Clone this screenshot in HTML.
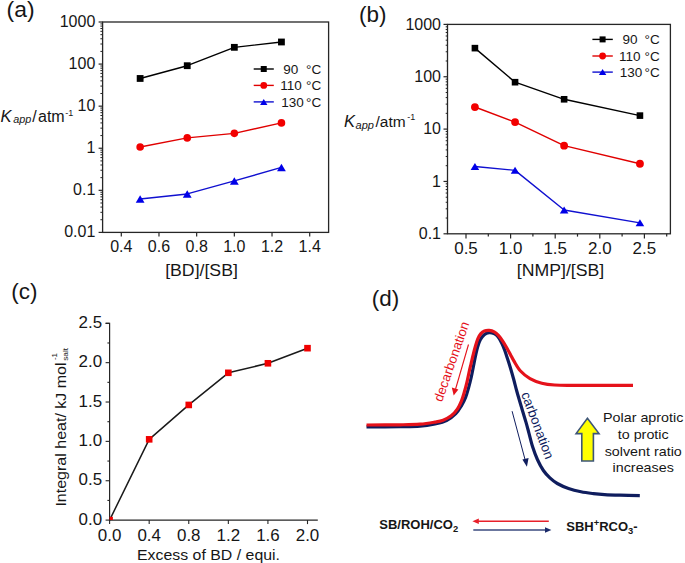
<!DOCTYPE html>
<html><head><meta charset="utf-8"><style>
html,body{margin:0;padding:0;background:#fff;}
svg{display:block;}
text{font-family:"Liberation Sans", sans-serif;fill:#161616;}
</style></head><body>
<svg width="685" height="563" viewBox="0 0 685 563">
<rect width="685" height="563" fill="#fff"/>
<rect x="102.6" y="22.0" width="226.00000000000003" height="210.4" fill="none" stroke="#262626" stroke-width="1.3"/>
<line x1="98.60" y1="232.40" x2="102.60" y2="232.40" stroke="#262626" stroke-width="1.2"/>
<line x1="100.40" y1="219.73" x2="102.60" y2="219.73" stroke="#262626" stroke-width="1"/>
<line x1="100.40" y1="212.32" x2="102.60" y2="212.32" stroke="#262626" stroke-width="1"/>
<line x1="100.40" y1="207.07" x2="102.60" y2="207.07" stroke="#262626" stroke-width="1"/>
<line x1="100.40" y1="202.99" x2="102.60" y2="202.99" stroke="#262626" stroke-width="1"/>
<line x1="100.40" y1="199.66" x2="102.60" y2="199.66" stroke="#262626" stroke-width="1"/>
<line x1="100.40" y1="196.84" x2="102.60" y2="196.84" stroke="#262626" stroke-width="1"/>
<line x1="100.40" y1="194.40" x2="102.60" y2="194.40" stroke="#262626" stroke-width="1"/>
<line x1="100.40" y1="192.25" x2="102.60" y2="192.25" stroke="#262626" stroke-width="1"/>
<line x1="98.60" y1="190.32" x2="102.60" y2="190.32" stroke="#262626" stroke-width="1.2"/>
<line x1="100.40" y1="177.65" x2="102.60" y2="177.65" stroke="#262626" stroke-width="1"/>
<line x1="100.40" y1="170.24" x2="102.60" y2="170.24" stroke="#262626" stroke-width="1"/>
<line x1="100.40" y1="164.99" x2="102.60" y2="164.99" stroke="#262626" stroke-width="1"/>
<line x1="100.40" y1="160.91" x2="102.60" y2="160.91" stroke="#262626" stroke-width="1"/>
<line x1="100.40" y1="157.58" x2="102.60" y2="157.58" stroke="#262626" stroke-width="1"/>
<line x1="100.40" y1="154.76" x2="102.60" y2="154.76" stroke="#262626" stroke-width="1"/>
<line x1="100.40" y1="152.32" x2="102.60" y2="152.32" stroke="#262626" stroke-width="1"/>
<line x1="100.40" y1="150.17" x2="102.60" y2="150.17" stroke="#262626" stroke-width="1"/>
<line x1="98.60" y1="148.24" x2="102.60" y2="148.24" stroke="#262626" stroke-width="1.2"/>
<line x1="100.40" y1="135.57" x2="102.60" y2="135.57" stroke="#262626" stroke-width="1"/>
<line x1="100.40" y1="128.16" x2="102.60" y2="128.16" stroke="#262626" stroke-width="1"/>
<line x1="100.40" y1="122.91" x2="102.60" y2="122.91" stroke="#262626" stroke-width="1"/>
<line x1="100.40" y1="118.83" x2="102.60" y2="118.83" stroke="#262626" stroke-width="1"/>
<line x1="100.40" y1="115.50" x2="102.60" y2="115.50" stroke="#262626" stroke-width="1"/>
<line x1="100.40" y1="112.68" x2="102.60" y2="112.68" stroke="#262626" stroke-width="1"/>
<line x1="100.40" y1="110.24" x2="102.60" y2="110.24" stroke="#262626" stroke-width="1"/>
<line x1="100.40" y1="108.09" x2="102.60" y2="108.09" stroke="#262626" stroke-width="1"/>
<line x1="98.60" y1="106.16" x2="102.60" y2="106.16" stroke="#262626" stroke-width="1.2"/>
<line x1="100.40" y1="93.49" x2="102.60" y2="93.49" stroke="#262626" stroke-width="1"/>
<line x1="100.40" y1="86.08" x2="102.60" y2="86.08" stroke="#262626" stroke-width="1"/>
<line x1="100.40" y1="80.83" x2="102.60" y2="80.83" stroke="#262626" stroke-width="1"/>
<line x1="100.40" y1="76.75" x2="102.60" y2="76.75" stroke="#262626" stroke-width="1"/>
<line x1="100.40" y1="73.42" x2="102.60" y2="73.42" stroke="#262626" stroke-width="1"/>
<line x1="100.40" y1="70.60" x2="102.60" y2="70.60" stroke="#262626" stroke-width="1"/>
<line x1="100.40" y1="68.16" x2="102.60" y2="68.16" stroke="#262626" stroke-width="1"/>
<line x1="100.40" y1="66.01" x2="102.60" y2="66.01" stroke="#262626" stroke-width="1"/>
<line x1="98.60" y1="64.08" x2="102.60" y2="64.08" stroke="#262626" stroke-width="1.2"/>
<line x1="100.40" y1="51.41" x2="102.60" y2="51.41" stroke="#262626" stroke-width="1"/>
<line x1="100.40" y1="44.00" x2="102.60" y2="44.00" stroke="#262626" stroke-width="1"/>
<line x1="100.40" y1="38.75" x2="102.60" y2="38.75" stroke="#262626" stroke-width="1"/>
<line x1="100.40" y1="34.67" x2="102.60" y2="34.67" stroke="#262626" stroke-width="1"/>
<line x1="100.40" y1="31.34" x2="102.60" y2="31.34" stroke="#262626" stroke-width="1"/>
<line x1="100.40" y1="28.52" x2="102.60" y2="28.52" stroke="#262626" stroke-width="1"/>
<line x1="100.40" y1="26.08" x2="102.60" y2="26.08" stroke="#262626" stroke-width="1"/>
<line x1="100.40" y1="23.93" x2="102.60" y2="23.93" stroke="#262626" stroke-width="1"/>
<line x1="98.60" y1="22.00" x2="102.60" y2="22.00" stroke="#262626" stroke-width="1.2"/>
<text transform="translate(95.30,237.10)" font-size="16" text-anchor="end">0.01</text>
<text transform="translate(95.30,195.02)" font-size="16" text-anchor="end">0.1</text>
<text transform="translate(95.30,152.94)" font-size="16" text-anchor="end">1</text>
<text transform="translate(95.30,110.86)" font-size="16" text-anchor="end">10</text>
<text transform="translate(95.30,68.78)" font-size="16" text-anchor="end">100</text>
<text transform="translate(95.30,26.70)" font-size="16" text-anchor="end">1000</text>
<line x1="121.30" y1="232.40" x2="121.30" y2="236.40" stroke="#262626" stroke-width="1.2"/>
<text transform="translate(121.30,251.60)" font-size="16" text-anchor="middle">0.4</text>
<line x1="158.98" y1="232.40" x2="158.98" y2="236.40" stroke="#262626" stroke-width="1.2"/>
<text transform="translate(158.98,251.60)" font-size="16" text-anchor="middle">0.6</text>
<line x1="196.66" y1="232.40" x2="196.66" y2="236.40" stroke="#262626" stroke-width="1.2"/>
<text transform="translate(196.66,251.60)" font-size="16" text-anchor="middle">0.8</text>
<line x1="234.34" y1="232.40" x2="234.34" y2="236.40" stroke="#262626" stroke-width="1.2"/>
<text transform="translate(234.34,251.60)" font-size="16" text-anchor="middle">1.0</text>
<line x1="272.02" y1="232.40" x2="272.02" y2="236.40" stroke="#262626" stroke-width="1.2"/>
<text transform="translate(272.02,251.60)" font-size="16" text-anchor="middle">1.2</text>
<line x1="309.70" y1="232.40" x2="309.70" y2="236.40" stroke="#262626" stroke-width="1.2"/>
<text transform="translate(309.70,251.60)" font-size="16" text-anchor="middle">1.4</text>
<polyline points="140.14,78.47 187.24,65.70 234.34,47.33 281.44,41.99" fill="none" stroke="#000" stroke-width="1.4" stroke-linejoin="round"/>
<rect x="136.74" y="75.07" width="6.8" height="6.8" fill="#000"/>
<rect x="183.84" y="62.30" width="6.8" height="6.8" fill="#000"/>
<rect x="230.94" y="43.93" width="6.8" height="6.8" fill="#000"/>
<rect x="278.04" y="38.59" width="6.8" height="6.8" fill="#000"/>
<polyline points="140.14,147.00 187.24,137.91 234.34,133.34 281.44,122.91" fill="none" stroke="#e00000" stroke-width="1.4" stroke-linejoin="round"/>
<circle cx="140.14" cy="147.00" r="3.8" fill="#f20000"/>
<circle cx="187.24" cy="137.91" r="3.8" fill="#f20000"/>
<circle cx="234.34" cy="133.34" r="3.8" fill="#f20000"/>
<circle cx="281.44" cy="122.91" r="3.8" fill="#f20000"/>
<polyline points="140.14,199.06 187.24,193.95 234.34,180.95 281.44,167.43" fill="none" stroke="#1010d0" stroke-width="1.4" stroke-linejoin="round"/>
<polygon points="135.74,202.86 144.54,202.86 140.14,195.26" fill="#0000e8"/>
<polygon points="182.84,197.75 191.64,197.75 187.24,190.15" fill="#0000e8"/>
<polygon points="229.94,184.75 238.74,184.75 234.34,177.15" fill="#0000e8"/>
<polygon points="277.04,171.23 285.84,171.23 281.44,163.63" fill="#0000e8"/>
<line x1="253.70" y1="69.00" x2="273.80" y2="69.00" stroke="#000" stroke-width="1.4"/>
<rect x="260.75" y="66.00" width="6.0" height="6.0" fill="#000"/>
<text transform="translate(283.30,73.70) scale(1.04,1)" font-size="13">90</text>
<text transform="translate(306.00,73.70) scale(1.04,1)" font-size="13">°C</text>
<line x1="253.70" y1="85.40" x2="273.80" y2="85.40" stroke="#e00000" stroke-width="1.4"/>
<circle cx="263.75" cy="85.40" r="3.4" fill="#f20000"/>
<text transform="translate(280.20,90.10) scale(1.04,1)" font-size="13">110</text>
<text transform="translate(306.00,90.10) scale(1.04,1)" font-size="13">°C</text>
<line x1="253.70" y1="101.90" x2="273.80" y2="101.90" stroke="#1010d0" stroke-width="1.4"/>
<polygon points="260.05,104.90 267.45,104.90 263.75,98.90" fill="#0000e8"/>
<text transform="translate(281.30,106.60) scale(1.04,1)" font-size="13">130</text>
<text transform="translate(306.00,106.60) scale(1.04,1)" font-size="13">°C</text>
<text transform="translate(0.40,121.50)" font-size="16.5" font-style="italic">K</text>
<text transform="translate(13.30,123.40)" font-size="10.8" font-style="italic">app</text>
<text transform="translate(32.20,121.70)" font-size="16">/</text>
<text transform="translate(38.00,121.60)" font-size="16">atm</text>
<text transform="translate(65.30,115.70)" font-size="9">-1</text>
<text transform="translate(201.50,276.20) scale(1.04,1)" font-size="17" text-anchor="middle">[BD]/[SB]</text>
<text transform="translate(6.60,17.00) scale(1.04,1)" font-size="22">(a)</text>
<rect x="447.5" y="24.4" width="222.89999999999998" height="209.4" fill="none" stroke="#262626" stroke-width="1.3"/>
<line x1="443.50" y1="233.80" x2="447.50" y2="233.80" stroke="#262626" stroke-width="1.2"/>
<line x1="445.70" y1="218.04" x2="447.50" y2="218.04" stroke="#262626" stroke-width="1"/>
<line x1="445.70" y1="208.82" x2="447.50" y2="208.82" stroke="#262626" stroke-width="1"/>
<line x1="445.70" y1="202.28" x2="447.50" y2="202.28" stroke="#262626" stroke-width="1"/>
<line x1="445.70" y1="197.21" x2="447.50" y2="197.21" stroke="#262626" stroke-width="1"/>
<line x1="445.70" y1="193.06" x2="447.50" y2="193.06" stroke="#262626" stroke-width="1"/>
<line x1="445.70" y1="189.56" x2="447.50" y2="189.56" stroke="#262626" stroke-width="1"/>
<line x1="445.70" y1="186.52" x2="447.50" y2="186.52" stroke="#262626" stroke-width="1"/>
<line x1="445.70" y1="183.85" x2="447.50" y2="183.85" stroke="#262626" stroke-width="1"/>
<line x1="443.50" y1="181.45" x2="447.50" y2="181.45" stroke="#262626" stroke-width="1.2"/>
<line x1="445.70" y1="165.69" x2="447.50" y2="165.69" stroke="#262626" stroke-width="1"/>
<line x1="445.70" y1="156.47" x2="447.50" y2="156.47" stroke="#262626" stroke-width="1"/>
<line x1="445.70" y1="149.93" x2="447.50" y2="149.93" stroke="#262626" stroke-width="1"/>
<line x1="445.70" y1="144.86" x2="447.50" y2="144.86" stroke="#262626" stroke-width="1"/>
<line x1="445.70" y1="140.71" x2="447.50" y2="140.71" stroke="#262626" stroke-width="1"/>
<line x1="445.70" y1="137.21" x2="447.50" y2="137.21" stroke="#262626" stroke-width="1"/>
<line x1="445.70" y1="134.17" x2="447.50" y2="134.17" stroke="#262626" stroke-width="1"/>
<line x1="445.70" y1="131.50" x2="447.50" y2="131.50" stroke="#262626" stroke-width="1"/>
<line x1="443.50" y1="129.10" x2="447.50" y2="129.10" stroke="#262626" stroke-width="1.2"/>
<line x1="445.70" y1="113.34" x2="447.50" y2="113.34" stroke="#262626" stroke-width="1"/>
<line x1="445.70" y1="104.12" x2="447.50" y2="104.12" stroke="#262626" stroke-width="1"/>
<line x1="445.70" y1="97.58" x2="447.50" y2="97.58" stroke="#262626" stroke-width="1"/>
<line x1="445.70" y1="92.51" x2="447.50" y2="92.51" stroke="#262626" stroke-width="1"/>
<line x1="445.70" y1="88.36" x2="447.50" y2="88.36" stroke="#262626" stroke-width="1"/>
<line x1="445.70" y1="84.86" x2="447.50" y2="84.86" stroke="#262626" stroke-width="1"/>
<line x1="445.70" y1="81.82" x2="447.50" y2="81.82" stroke="#262626" stroke-width="1"/>
<line x1="445.70" y1="79.15" x2="447.50" y2="79.15" stroke="#262626" stroke-width="1"/>
<line x1="443.50" y1="76.75" x2="447.50" y2="76.75" stroke="#262626" stroke-width="1.2"/>
<line x1="445.70" y1="60.99" x2="447.50" y2="60.99" stroke="#262626" stroke-width="1"/>
<line x1="445.70" y1="51.77" x2="447.50" y2="51.77" stroke="#262626" stroke-width="1"/>
<line x1="445.70" y1="45.23" x2="447.50" y2="45.23" stroke="#262626" stroke-width="1"/>
<line x1="445.70" y1="40.16" x2="447.50" y2="40.16" stroke="#262626" stroke-width="1"/>
<line x1="445.70" y1="36.01" x2="447.50" y2="36.01" stroke="#262626" stroke-width="1"/>
<line x1="445.70" y1="32.51" x2="447.50" y2="32.51" stroke="#262626" stroke-width="1"/>
<line x1="445.70" y1="29.47" x2="447.50" y2="29.47" stroke="#262626" stroke-width="1"/>
<line x1="445.70" y1="26.80" x2="447.50" y2="26.80" stroke="#262626" stroke-width="1"/>
<line x1="443.50" y1="24.40" x2="447.50" y2="24.40" stroke="#262626" stroke-width="1.2"/>
<text transform="translate(441.00,238.90)" font-size="16" text-anchor="end">0.1</text>
<text transform="translate(441.00,186.55)" font-size="16" text-anchor="end">1</text>
<text transform="translate(441.00,134.20)" font-size="16" text-anchor="end">10</text>
<text transform="translate(441.00,81.85)" font-size="16" text-anchor="end">100</text>
<text transform="translate(441.00,29.50)" font-size="16" text-anchor="end">1000</text>
<line x1="466.00" y1="233.80" x2="466.00" y2="238.60" stroke="#262626" stroke-width="1.2"/>
<text transform="translate(466.00,254.30) scale(1.06,1)" font-size="16" text-anchor="middle">0.5</text>
<line x1="488.30" y1="233.80" x2="488.30" y2="236.60" stroke="#262626" stroke-width="1.2"/>
<line x1="510.60" y1="233.80" x2="510.60" y2="238.60" stroke="#262626" stroke-width="1.2"/>
<text transform="translate(510.60,254.30) scale(1.06,1)" font-size="16" text-anchor="middle">1.0</text>
<line x1="532.90" y1="233.80" x2="532.90" y2="236.60" stroke="#262626" stroke-width="1.2"/>
<line x1="555.20" y1="233.80" x2="555.20" y2="238.60" stroke="#262626" stroke-width="1.2"/>
<text transform="translate(555.20,254.30) scale(1.06,1)" font-size="16" text-anchor="middle">1.5</text>
<line x1="577.50" y1="233.80" x2="577.50" y2="236.60" stroke="#262626" stroke-width="1.2"/>
<line x1="599.80" y1="233.80" x2="599.80" y2="238.60" stroke="#262626" stroke-width="1.2"/>
<text transform="translate(599.80,254.30) scale(1.06,1)" font-size="16" text-anchor="middle">2.0</text>
<line x1="622.10" y1="233.80" x2="622.10" y2="236.60" stroke="#262626" stroke-width="1.2"/>
<line x1="644.40" y1="233.80" x2="644.40" y2="238.60" stroke="#262626" stroke-width="1.2"/>
<text transform="translate(644.40,254.30) scale(1.06,1)" font-size="16" text-anchor="middle">2.5</text>
<line x1="666.70" y1="233.80" x2="666.70" y2="236.60" stroke="#262626" stroke-width="1.2"/>
<polyline points="474.92,48.14 515.06,82.20 564.12,99.29 639.94,115.61" fill="none" stroke="#000" stroke-width="1.4" stroke-linejoin="round"/>
<rect x="471.62" y="44.84" width="6.6" height="6.6" fill="#000"/>
<rect x="511.76" y="78.90" width="6.6" height="6.6" fill="#000"/>
<rect x="560.82" y="95.99" width="6.6" height="6.6" fill="#000"/>
<rect x="636.64" y="112.31" width="6.6" height="6.6" fill="#000"/>
<polyline points="474.92,107.03 515.06,122.11 564.12,145.69 639.94,163.73" fill="none" stroke="#e00000" stroke-width="1.4" stroke-linejoin="round"/>
<circle cx="474.92" cy="107.03" r="3.9" fill="#f20000"/>
<circle cx="515.06" cy="122.11" r="3.9" fill="#f20000"/>
<circle cx="564.12" cy="145.69" r="3.9" fill="#f20000"/>
<circle cx="639.94" cy="163.73" r="3.9" fill="#f20000"/>
<polyline points="474.92,166.50 515.06,170.34 564.12,209.99 639.94,222.83" fill="none" stroke="#1010d0" stroke-width="1.4" stroke-linejoin="round"/>
<polygon points="470.62,170.00 479.22,170.00 474.92,163.00" fill="#0000e8"/>
<polygon points="510.76,173.84 519.36,173.84 515.06,166.84" fill="#0000e8"/>
<polygon points="559.82,213.49 568.42,213.49 564.12,206.49" fill="#0000e8"/>
<polygon points="635.64,226.33 644.24,226.33 639.94,219.33" fill="#0000e8"/>
<line x1="592.40" y1="39.40" x2="612.80" y2="39.40" stroke="#000" stroke-width="1.4"/>
<rect x="599.60" y="36.40" width="6.0" height="6.0" fill="#000"/>
<text transform="translate(622.40,44.10) scale(1.04,1)" font-size="13">90</text>
<text transform="translate(644.60,44.10) scale(1.04,1)" font-size="13">°C</text>
<line x1="592.40" y1="56.00" x2="612.80" y2="56.00" stroke="#e00000" stroke-width="1.4"/>
<circle cx="602.60" cy="56.00" r="3.4" fill="#f20000"/>
<text transform="translate(619.00,60.70) scale(1.04,1)" font-size="13">110</text>
<text transform="translate(644.60,60.70) scale(1.04,1)" font-size="13">°C</text>
<line x1="592.40" y1="72.10" x2="612.80" y2="72.10" stroke="#1010d0" stroke-width="1.4"/>
<polygon points="598.90,75.10 606.30,75.10 602.60,69.10" fill="#0000e8"/>
<text transform="translate(619.80,76.80) scale(1.04,1)" font-size="13">130</text>
<text transform="translate(644.60,76.80) scale(1.04,1)" font-size="13">°C</text>
<text transform="translate(344.00,126.90)" font-size="16.5" font-style="italic">K</text>
<text transform="translate(355.60,128.60)" font-size="11" font-style="italic">app</text>
<text transform="translate(375.50,126.60)" font-size="15.5">/atm</text>
<text transform="translate(407.30,120.20)" font-size="9">-1</text>
<text transform="translate(560.50,276.20) scale(1.04,1)" font-size="17" text-anchor="middle">[NMP]/[SB]</text>
<text transform="translate(359.00,21.90) scale(1.02,1)" font-size="22">(b)</text>
<polyline points="105.6,323.3 109.6,323.3 109.6,520.1 317.8,520.1" fill="none" stroke="#262626" stroke-width="1.2"/>
<line x1="105.60" y1="520.10" x2="109.60" y2="520.10" stroke="#262626" stroke-width="1.1"/>
<text transform="translate(102.10,524.80) scale(1.06,1)" font-size="16" text-anchor="end">0.0</text>
<line x1="107.40" y1="500.42" x2="109.60" y2="500.42" stroke="#262626" stroke-width="1.1"/>
<line x1="105.60" y1="480.74" x2="109.60" y2="480.74" stroke="#262626" stroke-width="1.1"/>
<text transform="translate(102.10,485.44) scale(1.06,1)" font-size="16" text-anchor="end">0.5</text>
<line x1="107.40" y1="461.06" x2="109.60" y2="461.06" stroke="#262626" stroke-width="1.1"/>
<line x1="105.60" y1="441.38" x2="109.60" y2="441.38" stroke="#262626" stroke-width="1.1"/>
<text transform="translate(102.10,446.08) scale(1.06,1)" font-size="16" text-anchor="end">1.0</text>
<line x1="107.40" y1="421.70" x2="109.60" y2="421.70" stroke="#262626" stroke-width="1.1"/>
<line x1="105.60" y1="402.02" x2="109.60" y2="402.02" stroke="#262626" stroke-width="1.1"/>
<text transform="translate(102.10,406.72) scale(1.06,1)" font-size="16" text-anchor="end">1.5</text>
<line x1="107.40" y1="382.34" x2="109.60" y2="382.34" stroke="#262626" stroke-width="1.1"/>
<line x1="105.60" y1="362.66" x2="109.60" y2="362.66" stroke="#262626" stroke-width="1.1"/>
<text transform="translate(102.10,367.36) scale(1.06,1)" font-size="16" text-anchor="end">2.0</text>
<line x1="107.40" y1="342.98" x2="109.60" y2="342.98" stroke="#262626" stroke-width="1.1"/>
<line x1="105.60" y1="323.30" x2="109.60" y2="323.30" stroke="#262626" stroke-width="1.1"/>
<text transform="translate(102.10,328.00) scale(1.06,1)" font-size="16" text-anchor="end">2.5</text>
<line x1="109.60" y1="520.10" x2="109.60" y2="524.10" stroke="#262626" stroke-width="1.1"/>
<text transform="translate(109.60,540.60) scale(1.06,1)" font-size="16" text-anchor="middle">0.0</text>
<line x1="149.18" y1="520.10" x2="149.18" y2="524.10" stroke="#262626" stroke-width="1.1"/>
<text transform="translate(149.18,540.60) scale(1.06,1)" font-size="16" text-anchor="middle">0.4</text>
<line x1="188.76" y1="520.10" x2="188.76" y2="524.10" stroke="#262626" stroke-width="1.1"/>
<text transform="translate(188.76,540.60) scale(1.06,1)" font-size="16" text-anchor="middle">0.8</text>
<line x1="228.34" y1="520.10" x2="228.34" y2="524.10" stroke="#262626" stroke-width="1.1"/>
<text transform="translate(228.34,540.60) scale(1.06,1)" font-size="16" text-anchor="middle">1.2</text>
<line x1="267.92" y1="520.10" x2="267.92" y2="524.10" stroke="#262626" stroke-width="1.1"/>
<text transform="translate(267.92,540.60) scale(1.06,1)" font-size="16" text-anchor="middle">1.6</text>
<line x1="307.50" y1="520.10" x2="307.50" y2="524.10" stroke="#262626" stroke-width="1.1"/>
<text transform="translate(307.50,540.60) scale(1.06,1)" font-size="16" text-anchor="middle">2.0</text>
<clipPath id="cc"><rect x="109.6" y="300" width="220" height="220.10000000000002"/></clipPath>
<polyline points="109.60,520.10 149.18,439.33 188.76,404.93 228.34,372.81 267.92,363.29 307.50,348.18" fill="none" stroke="#1a1a1a" stroke-width="1.5" stroke-linejoin="round"/>
<g clip-path="url(#cc)"><rect x="106.30" y="516.80" width="6.6" height="6.6" fill="#f00000"/></g>
<g clip-path="url(#cc)"><rect x="145.88" y="436.03" width="6.6" height="6.6" fill="#f00000"/></g>
<g clip-path="url(#cc)"><rect x="185.46" y="401.63" width="6.6" height="6.6" fill="#f00000"/></g>
<g clip-path="url(#cc)"><rect x="225.04" y="369.51" width="6.6" height="6.6" fill="#f00000"/></g>
<g clip-path="url(#cc)"><rect x="264.62" y="359.99" width="6.6" height="6.6" fill="#f00000"/></g>
<g clip-path="url(#cc)"><rect x="304.20" y="344.88" width="6.6" height="6.6" fill="#f00000"/></g>
<text transform="translate(66.00,506.60) rotate(-90) scale(1.105,1)" font-size="14.5">Integral heat/ kJ mol</text>
<text transform="translate(57.00,360.00) rotate(-90) scale(1.05,1)" font-size="7.5">-1</text>
<text transform="translate(67.80,360.80) rotate(-90) scale(1.1,1)" font-size="7.5">salt</text>
<text transform="translate(137.00,559.60) scale(1.06,1)" font-size="15">Excess of BD / equi.</text>
<text transform="translate(11.20,298.70) scale(1.02,1)" font-size="22">(c)</text>
<text transform="translate(371.80,305.80) scale(1.02,1)" font-size="22">(d)</text>
<path d="M366.50,426.80 C372.08,426.78 391.08,426.80 400.00,426.70 C408.92,426.60 414.17,426.67 420.00,426.20 C425.83,425.73 430.58,424.83 435.00,423.90 C439.42,422.97 443.03,422.30 446.50,420.60 C449.97,418.90 453.30,416.20 455.80,413.70 C458.30,411.20 459.87,408.33 461.50,405.60 C463.13,402.87 464.43,400.23 465.60,397.30 C466.77,394.37 467.55,391.38 468.50,388.00 C469.45,384.62 470.47,380.67 471.30,377.00 C472.13,373.33 472.80,369.50 473.50,366.00 C474.20,362.50 474.82,359.17 475.50,356.00 C476.18,352.83 476.80,349.70 477.60,347.00 C478.40,344.30 479.20,341.83 480.30,339.80 C481.40,337.77 482.75,335.98 484.20,334.80 C485.65,333.62 487.37,332.90 489.00,332.70 C490.63,332.50 492.50,332.92 494.00,333.60 C495.50,334.28 496.70,335.20 498.00,336.80 C499.30,338.40 500.70,341.00 501.80,343.20 C502.90,345.40 503.68,347.53 504.60,350.00 C505.52,352.47 506.35,355.08 507.30,358.00 C508.25,360.92 509.25,364.00 510.30,367.50 C511.35,371.00 512.55,375.17 513.60,379.00 C514.65,382.83 515.58,386.78 516.60,390.50 C517.62,394.22 518.65,397.72 519.70,401.30 C520.75,404.88 521.83,408.45 522.90,412.00 C523.97,415.55 525.08,419.05 526.10,422.60 C527.12,426.15 527.90,429.23 529.00,433.30 C530.10,437.37 531.30,442.63 532.70,447.00 C534.10,451.37 535.62,455.58 537.40,459.50 C539.18,463.42 541.32,467.43 543.40,470.50 C545.48,473.57 547.58,475.73 549.90,477.90 C552.22,480.07 554.20,481.73 557.30,483.50 C560.40,485.27 564.55,487.12 568.50,488.50 C572.45,489.88 576.85,490.95 581.00,491.80 C585.15,492.65 589.47,493.13 593.40,493.60 C597.33,494.07 600.17,494.33 604.60,494.60 C609.03,494.87 614.13,495.03 620.00,495.20 C625.87,495.37 636.50,495.53 639.80,495.60" fill="none" stroke="#0f1d5e" stroke-width="3.2"/>
<path d="M366.50,425.00 C372.08,424.97 391.08,424.93 400.00,424.80 C408.92,424.67 414.17,424.65 420.00,424.20 C425.83,423.75 431.15,422.77 435.00,422.10 C438.85,421.43 440.40,421.25 443.10,420.20 C445.80,419.15 448.80,417.70 451.20,415.80 C453.60,413.90 455.78,411.30 457.50,408.80 C459.22,406.30 460.35,403.63 461.50,400.80 C462.65,397.97 463.50,394.88 464.40,391.80 C465.30,388.72 466.13,385.52 466.90,382.30 C467.67,379.08 468.32,375.55 469.00,372.50 C469.68,369.45 470.33,366.83 471.00,364.00 C471.67,361.17 472.30,358.33 473.00,355.50 C473.70,352.67 474.40,349.78 475.20,347.00 C476.00,344.22 476.85,341.03 477.80,338.80 C478.75,336.57 479.80,334.90 480.90,333.60 C482.00,332.30 483.02,331.53 484.40,331.00 C485.78,330.47 487.57,330.27 489.20,330.40 C490.83,330.53 492.67,330.97 494.20,331.80 C495.73,332.63 496.98,333.83 498.40,335.40 C499.82,336.97 501.27,339.05 502.70,341.20 C504.13,343.35 505.70,346.05 507.00,348.30 C508.30,350.55 509.33,352.55 510.50,354.70 C511.67,356.85 512.33,358.48 514.00,361.20 C515.67,363.92 517.83,368.10 520.50,371.00 C523.17,373.90 526.45,376.57 530.00,378.60 C533.55,380.63 537.70,382.13 541.80,383.20 C545.90,384.27 549.07,384.65 554.60,385.00 C560.13,385.35 561.93,385.25 575.00,385.30 C588.07,385.35 623.33,385.30 633.00,385.30" fill="none" stroke="#e5121b" stroke-width="3.2"/>
<text transform="translate(442.00,402.50) rotate(-70.8)" font-size="13.2" style="fill:#e5121b">decarbonation</text>
<line x1="468.50" y1="344.50" x2="455.60" y2="389.00" stroke="#e5121b" stroke-width="1.1"/>
<polygon points="453.7,395.6 451.8,387.6 458.4,389.5" fill="#e5121b"/>
<text transform="translate(521.00,394.00) rotate(69.5)" font-size="13.5" style="fill:#0f1d5e">carbonation</text>
<line x1="512.10" y1="411.20" x2="525.30" y2="460.50" stroke="#0f1d5e" stroke-width="1"/>
<polygon points="526.9,466.8 522.4,459.6 528.6,457.9" fill="#0f1d5e"/>
<polygon points="587.4,418.3 599.0,433.6 593.4,433.6 593.4,461.0 581.8,461.0 581.8,433.6 576.1,433.6" fill="#ffff00" stroke="#3d5578" stroke-width="1.6"/>
<text transform="translate(643.20,421.60) scale(1.06,1)" font-size="13.5" text-anchor="middle">Polar aprotic</text>
<text transform="translate(643.20,438.60) scale(1.06,1)" font-size="13.5" text-anchor="middle">to protic</text>
<text transform="translate(643.20,456.00) scale(1.06,1)" font-size="13.5" text-anchor="middle">solvent ratio</text>
<text transform="translate(643.20,472.40) scale(1.06,1)" font-size="13.5" text-anchor="middle">increases</text>
<text transform="translate(379.30,529.20) scale(1.04,1)" font-size="12.5" font-weight="bold">SB/ROH/CO<tspan font-size="9" dy="3.2">2</tspan></text>
<line x1="477.00" y1="521.20" x2="548.80" y2="521.20" stroke="#e8202a" stroke-width="1.4"/>
<polygon points="472.4,521.2 478.8,518.4 478.8,524.0" fill="#e8202a"/>
<line x1="473.30" y1="530.00" x2="546.00" y2="530.00" stroke="#3a4a7e" stroke-width="1.4"/>
<polygon points="551.4,530.0 545,527.2 545,532.8" fill="#1a2a6a"/>
<text transform="translate(566.30,531.00) scale(1.04,1)" font-size="12.5" font-weight="bold">SBH<tspan font-size="9" dy="-5">+</tspan><tspan dy="5">RCO</tspan><tspan font-size="9" dy="3">3</tspan><tspan dy="-3">-</tspan></text>
</svg>
</body></html>
